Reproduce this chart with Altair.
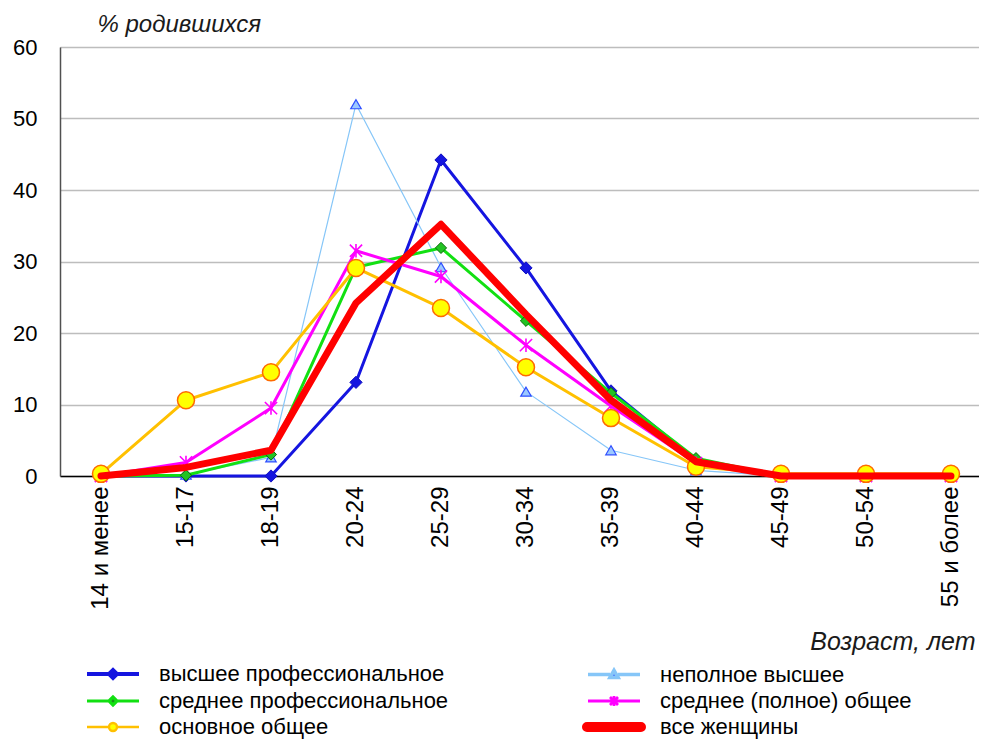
import altair as alt
import pandas as pd

categories = ["14 и менее", "15-17", "18-19", "20-24", "25-29", "30-34",
              "35-39", "40-44", "45-49", "50-54", "55 и более"]

series_names = ["высшее профессиональное", "неполное высшее",
                "среднее профессиональное", "среднее (полное) общее",
                "основное общее", "все женщины"]

v_vysshee_prof = [0, 0, 0, 13.1, 44.2, 29.1, 11.9, 2.2, 0, 0, 0]
v_nepolnoe_vysshee = [0, 0.2, 2.6, 52.0, 29.2, 11.8, 3.6, 0.8, 0, 0, 0]
v_srednee_prof = [0, 0.1, 3.0, 29.2, 31.9, 21.7, 11.6, 2.5, 0, 0, 0]
v_srednee_obshee = [0, 1.9, 9.5, 31.5, 27.9, 18.3, 9.8, 1.8, 0, 0, 0]
v_osnovnoe_obshee = [0.3, 10.6, 14.5, 29.1, 23.5, 15.2, 8.1, 1.3, 0.3, 0.3, 0.3]
v_vse_zhenshiny = [0, 1.2, 3.6, 24.2, 35.2, 22.6, 10.6, 2.0, 0, 0, 0]

series_values = [v_vysshee_prof, v_nepolnoe_vysshee, v_srednee_prof,
                 v_srednee_obshee, v_osnovnoe_obshee, v_vse_zhenshiny]

y_ticks = [0, 10, 20, 30, 40, 50, 60]

rows = []
for name, vals in zip(series_names, series_values):
    for c, v in zip(categories, vals):
        rows.append({"age": c, "series": name, "value": v})
df = pd.DataFrame(rows)

FONT = "Liberation Sans"

x_enc = alt.X(
    "age:N", sort=categories,
    scale=alt.Scale(type="point", padding=0.406, align=0.594, round=False),
    axis=alt.Axis(
        title="Возраст, лет", titleAngle=0, titleAlign="right",
        titleBaseline="middle", titleX=915, titleY=165,
        titleFontStyle="italic", titleFontWeight="normal", titleFontSize=25,
        titleFont=FONT, titleColor="#1a1a1a",
        labelAngle=270, labelAlign="right", labelBaseline="middle",
        labelPadding=10, labelFontSize=24, labelFont=FONT, labelColor="#000000",
        ticks=False, grid=False, domainColor="#000000", domainWidth=1.5,
    ),
)
y_enc = alt.Y(
    "value:Q",
    scale=alt.Scale(domain=[0, 60], nice=False, zero=True),
    axis=alt.Axis(
        values=y_ticks, title="% родившихся", titleAngle=0, titleAlign="left",
        titleBaseline="middle", titleX=37, titleY=-23,
        titleFontStyle="italic", titleFontWeight="normal", titleFontSize=24,
        titleFont=FONT, titleColor="#1a1a1a",
        labelPadding=23, labelFontSize=22, labelFont=FONT, labelColor="#000000",
        ticks=False, grid=True, gridColor="#bdbdbd", gridWidth=1.6,
        domainColor="#505050", domainWidth=1.5,
    ),
)

line_colors = ["#1515e0", "#86c6f8", "#12e012", "#ff00ff", "#ffc000", "#ff0000"]
line_widths = [3, 1.2, 3, 3, 3, 7]
marker_shapes = ["diamond", "triangle-up", "diamond",
                 "M-1,-1L1,1M-1,1L1,-1M0,-1.1L0,1.1", "circle", None]
marker_sizes = [150, 110, 125, 150, 290, 0]
marker_fill = ["#1515e0", "#9cc8ff", "#22c322", None, "#ffff00", None]
marker_stroke = ["#1010c0", "#2f4fff", "#0a6a0a", "#ff00ff", "#ff6a00", None]
marker_sw = [1, 1.2, 1, 1.6, 1.5, 0]

layers = []
for i, name in enumerate(series_names):
    base = alt.Chart(df).transform_filter(alt.datum.series == name)
    layers.append(
        base.mark_line(color=line_colors[i], strokeWidth=line_widths[i],
                       strokeJoin="round", strokeCap="round")
        .encode(x=x_enc, y=y_enc)
    )
    if marker_shapes[i] is not None:
        if marker_fill[i] is not None:
            pm = base.mark_point(shape=marker_shapes[i], size=marker_sizes[i],
                                 filled=True, fill=marker_fill[i],
                                 stroke=marker_stroke[i],
                                 strokeWidth=marker_sw[i], opacity=1)
        else:
            pm = base.mark_point(shape=marker_shapes[i], size=marker_sizes[i],
                                 filled=False, stroke=marker_stroke[i],
                                 strokeWidth=marker_sw[i], opacity=1)
        layers.append(pm.encode(x=x_enc, y=y_enc))

# legend symbols: line with small marker (custom paths, scaled by sqrt(size)/2)
legend_paths = [
    "M-5.2,0L-0.8,0M0.8,0L5.2,0M-0.8,0L0,-0.8L0.8,0L0,0.8Z",
    "M-5.2,0L-0.8,0M0.8,0L5.2,0M0,-0.8L0.8,0.6L-0.8,0.6Z",
    "M-5.2,0L-0.8,0M0.8,0L5.2,0M-0.8,0L0,-0.8L0.8,0L0,0.8Z",
    "M-5.2,0L5.2,0M-0.8,-0.8L0.8,0.8M-0.8,0.8L0.8,-0.8M0,-1L0,1",
    "M-5.2,0L-0.8,0M0.8,0L5.2,0M-0.8,0A0.8,0.8 0 1,0 0.8,0A0.8,0.8 0 1,0 -0.8,0Z",
    "M-5.4,-0.8L5.4,-0.8A0.8,0.8 0 0,1 5.4,0.8L-5.4,0.8A0.8,0.8 0 0,1 -5.4,-0.8Z",
]
legend_stroke = ["#1515e0", "#86c6f8", "#12e012", "#ff00ff", "#ffc000", "#ff0000"]
legend_fill = ["#1515e0", "#2f4fff", "#1a8a1a", "#ff00ff", "#ffff00", "#ff0000"]
legend_sw = [4, 2, 4, 4, 4, 1]

leg = alt.Legend(
    orient="none", legendX=42, legendY=616, columns=2, direction="horizontal",
    title=None,
    labelFont=FONT, labelFontSize=22, labelColor="#000000",
    symbolSize=100, labelOffset=35, rowPadding=4, columnPadding=130,
    symbolOpacity=1, padding=0, offset=0, labelLimit=0,
)

legend_layer = alt.Chart(df).transform_filter("false").mark_point(
    filled=True, opacity=1
).encode(
    stroke=alt.Stroke("series:N", scale=alt.Scale(domain=series_names, range=legend_stroke), legend=leg),
    fill=alt.Fill("series:N", scale=alt.Scale(domain=series_names, range=legend_fill), legend=leg),
    shape=alt.Shape("series:N", scale=alt.Scale(domain=series_names, range=legend_paths), legend=leg),
    strokeWidth=alt.StrokeWidth("series:N", scale=alt.Scale(domain=series_names, range=legend_sw), legend=leg),
)
layers.append(legend_layer)

chart = alt.layer(*layers).properties(
    width=919, height=429,
    autosize=alt.AutoSizeParams(type="none"),
    padding={"left": 52, "top": 39, "right": 0, "bottom": 264},
).configure_view(stroke=None).configure(background="white")

chart.save("out.html", embed_options={"renderer": "svg", "actions": False})
